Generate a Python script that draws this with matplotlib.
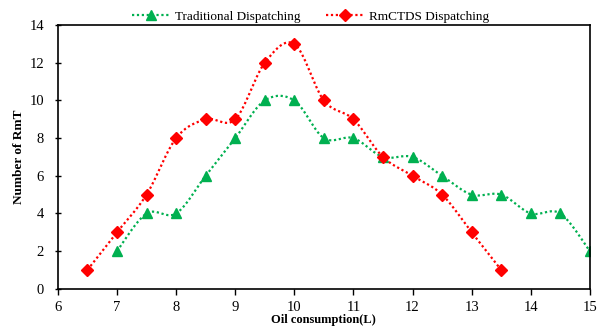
import numpy as np
import matplotlib
matplotlib.use("Agg")
import matplotlib.pyplot as plt

plt.rcParams['font.family'] = ['Liberation Serif', 'DejaVu Serif']

trad_x = [7, 7.5, 8, 8.5, 9, 9.5, 10, 10.5, 11, 11.5, 12, 12.5, 13, 13.5, 14, 14.5, 15]
trad_y = [2, 4, 4, 6, 8, 10, 10, 8, 8, 7, 7, 6, 5, 5, 4, 4, 2]
rm_x = [6.5, 7, 7.5, 8, 8.5, 9, 9.5, 10, 10.5, 11, 11.5, 12, 12.5, 13, 13.5]
rm_y = [1, 3, 5, 8, 9, 9, 12, 13, 10, 9, 7, 6, 5, 3, 1]


def smooth(xs, ys, n=20):
    # Excel-style smoothed line (cubic Bezier, control points at 1/6 of neighbour span)
    p = np.column_stack([xs, ys]).astype(float)
    pts = [p[0]]
    t = np.linspace(0, 1, n)[1:]
    for i in range(len(p) - 1):
        p0 = p[i - 1] if i > 0 else p[i]
        p3 = p[i + 2] if i + 2 < len(p) else p[i + 1]
        c1 = p[i] + (p[i + 1] - p0) / 6
        c2 = p[i + 1] - (p3 - p[i]) / 6
        for tt in t:
            b = ((1 - tt) ** 3) * p[i] + 3 * ((1 - tt) ** 2) * tt * c1 \
                + 3 * (1 - tt) * tt ** 2 * c2 + tt ** 3 * p[i + 1]
            pts.append(b)
    pts = np.array(pts)
    return pts[:, 0], pts[:, 1]


fig = plt.figure(figsize=(5.97, 3.27), dpi=100)
ax = fig.add_axes([0.097, 0.117, 0.891, 0.806])

green = '#00B050'
red = '#FF0000'

sx, sy = smooth(trad_x, trad_y)
ax.plot(sx, sy, color=green, ls=(0, (1, 1.2)), lw=1.6)
ax.plot(trad_x, trad_y, ls='none', marker='^', ms=7.5, color=green)
sx, sy = smooth(rm_x, rm_y)
ax.plot(sx, sy, color=red, ls=(0, (1, 1.2)), lw=1.6)
ax.plot(rm_x, rm_y, ls='none', marker='D', ms=6, color=red)

# legend handles
h1, = ax.plot([], [], color=green, ls=(0, (1, 1.2)), lw=1.6, marker='^', ms=7.5)
h2, = ax.plot([], [], color=red, ls=(0, (1, 1.2)), lw=1.6, marker='D', ms=6)
ax.legend([h1, h2], ['Traditional Dispatching', 'RmCTDS Dispatching'],
          loc='lower center', bbox_to_anchor=(0.475, 0.99), ncol=2,
          frameon=False, fontsize=9.5, handlelength=2.8, columnspacing=2.0,
          borderaxespad=0, handletextpad=0.4)

ax.set_xlim(6, 15)
ax.set_ylim(0, 14)
ax.set_xticks(np.arange(6, 16, 1))
ax.set_yticks(np.arange(0, 15, 2))
ax.tick_params(direction='out', length=4, width=1, labelsize=10.5, pad=5)
ax.tick_params(axis='y', direction='inout', pad=8)
for s in ax.spines.values():
    s.set_linewidth(1.2)

ax.set_xlabel('Oil consumption(L)', fontsize=9, fontweight='bold', labelpad=0)
ax.set_ylabel('Number of RmT', fontsize=9.5, fontweight='bold', labelpad=3)

fig.savefig('out.png', dpi=100)
